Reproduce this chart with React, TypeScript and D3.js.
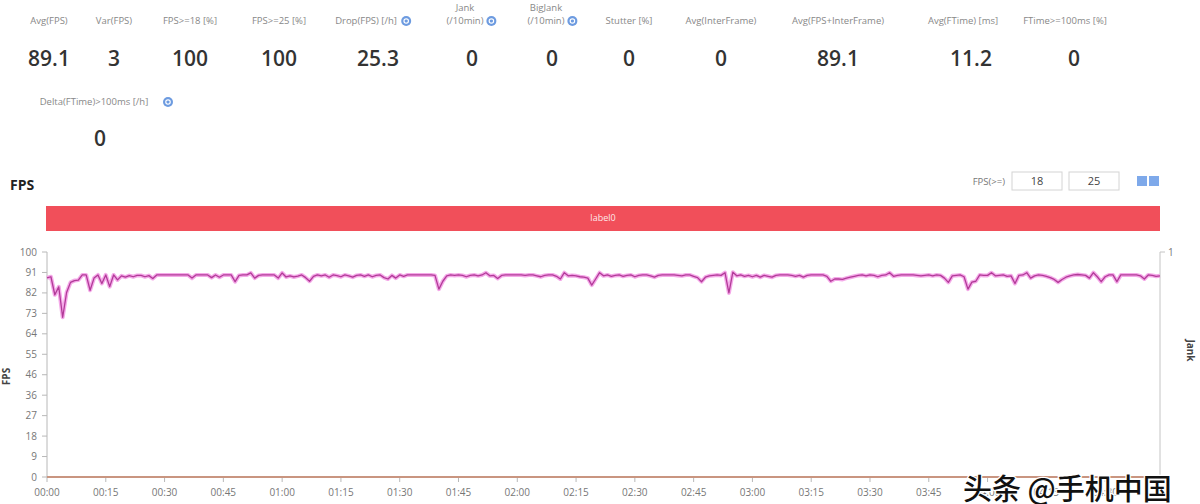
// PerfDog-style FPS report: summary stats on top, FPS line over time below.
import * as d3 from "d3";

const W = 1200;
const H = 504;

const statLabels = [
  "Avg(FPS)", "Var(FPS)", "FPS>=18 [%]", "FPS>=25 [%]", "Drop(FPS) [/h]",
  "Jank|(/10min)", "BigJank|(/10min)", "Stutter [%]", "Avg(InterFrame)",
  "Avg(FPS+InterFrame)", "Avg(FTime) [ms]", "FTime>=100ms [%]",
];
const statValues = ["89.1", "3", "100", "100", "25.3", "0", "0", "0", "0", "89.1", "11.2", "0"];
const statHelp = [false, false, false, false, true, true, true, false, false, false, false, false];
const statLabelX = [49, 114, 190, 279, 366, 465, 546, 629, 721, 838, 963, 1065];
const statValueX = [49, 114, 190, 279, 378, 472, 552, 629, 721, 838, 971, 1074];

const deltaLabel = "Delta(FTime)>100ms [/h]";
const deltaValue = "0";

const thresholds = ["18", "25"];
const bandLabel = "label0";

const yTickLabels = ["0", "9", "18", "27", "36", "46", "55", "64", "73", "82", "91", "100"];
const xTickLabels = [
  "00:00", "00:15", "00:30", "00:45", "01:00", "01:15", "01:30", "01:45", "02:00", "02:15",
  "02:30", "02:45", "03:00", "03:15", "03:30", "03:45", "04:00", "04:15", "04:30",
];

// one sample per second
const fps = [
  88.5, 89, 81, 84.5, 71, 82, 86.5, 87.3, 87.5, 89.8, 89.8, 83, 88.4, 89.8, 86,
  89.8, 84.6, 89.8, 87.6, 89.4, 88.8, 89.5, 89.0, 89.6, 89.6, 89.0, 89.5, 88.2, 89.8, 89.8,
  89.8, 89.8, 89.8, 89.8, 89.8, 89.8, 89.8, 88.4, 89.8, 89.8, 89.8, 89.8, 88.6, 89.8, 88.8,
  89.8, 89.8, 89.8, 86.8, 89.6, 89.8, 89.8, 90.7, 88.4, 89.6, 89.8, 89.8, 89.8, 89.8, 88.4,
  90.7, 88.9, 89.4, 88.9, 89.3, 89.8, 88.6, 87, 89.2, 89.8, 89.4, 89.8, 88.8, 89.8, 89.5,
  89.0, 89.8, 89.4, 88.8, 89.6, 89.8, 89.2, 89.8, 89.0, 89.6, 89.8, 88.6, 88.0, 89.6, 88.4,
  89.8, 89.2, 89.8, 89.8, 89.8, 89.8, 89.8, 89.8, 89.8, 89.6, 83.5, 87.0, 89.4, 89.8, 89.6,
  89.8, 89.6, 89.0, 89.6, 89.8, 89.4, 89.8, 90.8, 89.4, 89.6, 88.2, 89.6, 89.8, 89.8, 89.8,
  89.8, 89.8, 89.6, 89.8, 89.8, 89.4, 89.0, 89.6, 89.8, 89.8, 89.2, 88.0, 90.8, 89.4, 89.6,
  89.4, 89.0, 88.8, 88.4, 85.3, 88.0, 90.8, 89.4, 89.8, 89.2, 89.6, 89.8, 89.2, 89.6, 89.8,
  89.0, 89.6, 89.8, 89.8, 89.4, 88.8, 89.6, 89.8, 89.8, 89.8, 89.8, 89.6, 89.4, 89.8, 89.8,
  89.2, 88.6, 86.8, 88.8, 89.4, 89.6, 89.8, 89.6, 90.8, 81.8, 91.0, 89.4, 89.8, 89.2, 89.6,
  89.0, 89.6, 88.8, 89.6, 89.2, 88.8, 89.6, 89.8, 89.8, 89.8, 89.6, 89.2, 89.6, 88.8, 89.6,
  89.8, 89.8, 89.8, 89.8, 89.2, 87.0, 88.0, 88.0, 87.8, 88.4, 88.8, 89.2, 89.6, 89.8, 89.4,
  89.8, 89.6, 89.0, 89.6, 89.8, 90.8, 89.2, 89.6, 89.8, 89.8, 89.8, 89.8, 89.6, 89.4, 89.6,
  89.8, 89.4, 89.8, 89.6, 88.4, 86.5, 89.4, 89.6, 89.8, 89.0, 83.5, 86.6, 87.0, 89.8, 89.6,
  89.6, 90.8, 89.4, 89.6, 89.8, 89.2, 89.4, 86.0, 89.6, 89.8, 90.8, 88.4, 89.4, 89.8, 89.6,
  89.2, 88.6, 87.8, 86.5, 87.8, 88.8, 89.4, 89.8, 90.0, 89.8, 89.6, 88.4, 90.8, 89.0, 86.8,
  89.0, 89.8, 89.8, 86.8, 89.8, 89.8, 89.8, 89.8, 89.8, 89.4, 88.0, 89.8, 89.6, 89.2, 89.4,
];
const jank = fps.map(() => 0); // no jank in this run

const FONT = "'Open Sans', 'Noto Sans', sans-serif";

function HelpIcon({ x, y }: { x: number; y: number }) {
  return (
    <g transform={`translate(${x},${y})`}>
      <circle r={5} fill="#6d9be0" />
      <circle r={2.2} fill="none" stroke="#fff" strokeWidth={1.2} />
    </g>
  );
}

export default function App() {
  const m = { left: 47, right: 1160, top: 252, bottom: 477 };
  const x = d3.scaleLinear().domain([0, fps.length - 1]).range([m.left, m.right]);
  const xt = d3.scaleLinear().domain([0, 284]).range([m.left, m.right]);
  const y = d3.scaleLinear().domain([0, 100]).range([m.bottom, m.top]);
  const yJ = d3.scaleLinear().domain([0, 1]).range([m.bottom, m.top]);

  const line = d3.line<number>().x((_d, i) => x(i)).y((d) => y(d));
  const jankLine = d3.line<number>().x((_d, i) => x(i)).y((d) => yJ(d));
  const fpsPath = line(fps) ?? "";

  const yTicks = yTickLabels.map((t, i) => ({ t, v: (i * 100) / (yTickLabels.length - 1) }));
  const xTicks = xTickLabels.map((t, i) => ({ t, v: i * 15 }));

  return (
    <div style={{ width: W, height: H, overflow: "hidden", background: "#fff" }}>
      <style>{`html, body { margin: 0; padding: 0; overflow: hidden; background: #fff; }`}</style>
      <svg width={W} height={H} viewBox={`0 0 ${W} ${H}`} style={{ display: "block", fontFamily: FONT }}>
        <rect width={W} height={H} fill="#fff" />

        {/* summary row */}
        {statLabels.map((lab, i) => {
          const parts = lab.split("|");
          const lx = statLabelX[i];
          return (
            <g key={lab}>
              {parts.length === 2 ? (
                <>
                  <text x={lx} y={11} textAnchor="middle" fontSize={9.5} fill="#888">{parts[0]}</text>
                  <text x={lx} y={24} textAnchor="middle" fontSize={9.5} fill="#888">{parts[1]}</text>
                </>
              ) : (
                <text x={lx} y={24} textAnchor="middle" fontSize={9.5} fill="#888">{lab}</text>
              )}
              {statHelp[i] && (
                <HelpIcon
                  x={lx + (parts[parts.length - 1].length * 4.6) / 2 + 8}
                  y={21}
                />
              )}
              <text x={statValueX[i]} y={66} textAnchor="middle" fontSize={21} fontWeight={600} fill="#333">
                {statValues[i]}
              </text>
            </g>
          );
        })}
        <text x={94} y={105} textAnchor="middle" fontSize={9.5} fill="#888">{deltaLabel}</text>
        <HelpIcon x={168} y={102} />
        <text x={100} y={146} textAnchor="middle" fontSize={21} fontWeight={600} fill="#333">{deltaValue}</text>

        {/* chart header */}
        <text x={10} y={190} fontSize={14} fontWeight={700} fill="#222">FPS</text>
        <text x={1005} y={185} textAnchor="end" fontSize={9.5} fill="#777">FPS(&gt;=)</text>
        {thresholds.map((t, i) => (
          <g key={t} transform={`translate(${1012 + i * 57},172)`}>
            <rect width={50} height={18} fill="#fff" stroke="#d4d4d4" />
            <text x={25} y={13} textAnchor="middle" fontSize={11} fill="#444">{t}</text>
          </g>
        ))}
        <rect x={1137} y={176} width={10} height={10} fill="#7ea9ea" />
        <rect x={1149} y={176} width={10} height={10} fill="#7ea9ea" />

        {/* label band */}
        <rect x={46} y={206} width={1114} height={25} fill="#f14f5a" />
        <text x={603} y={221} textAnchor="middle" fontSize={9} fill="#fde8ea">{bandLabel}</text>

        {/* left axis */}
        <line x1={m.left} x2={m.left} y1={m.top} y2={m.bottom} stroke="#b8b8b8" />
        {yTicks.map(({ t, v }) => (
          <g key={t}>
            <line x1={m.left - 5} x2={m.left} y1={y(v)} y2={y(v)} stroke="#b8b8b8" />
            <text x={m.left - 10} y={y(v) + 3.5} textAnchor="end" fontSize={10} fill="#777">{t}</text>
          </g>
        ))}
        <text transform={`translate(10,${(m.top + m.bottom) / 2 + 12}) rotate(-90)`} textAnchor="middle" fontSize={10} fontWeight={700} fill="#444">FPS</text>

        {/* right axis */}
        <line x1={m.right} x2={m.right} y1={m.top} y2={m.bottom} stroke="#c4c4c4" />
        <line x1={m.right} x2={m.right + 5} y1={yJ(1)} y2={yJ(1)} stroke="#c4c4c4" />
        <text x={m.right + 8} y={yJ(1) + 3.5} fontSize={10} fill="#777">1</text>
        <text transform={`translate(1187,${(m.top + m.bottom) / 2 - 14}) rotate(90)`} textAnchor="middle" fontSize={10} fontWeight={700} fill="#444">Jank</text>

        {/* bottom axis */}
        <line x1={m.left} x2={m.right} y1={m.bottom} y2={m.bottom} stroke="#b8b8b8" />
        {xTicks.map(({ t, v }) => (
          <g key={t}>
            <line x1={xt(v)} x2={xt(v)} y1={m.bottom} y2={m.bottom + 5} stroke="#b8b8b8" />
            <text x={xt(v)} y={m.bottom + 19} textAnchor="middle" fontSize={10} fill="#777">{t}</text>
          </g>
        ))}

        {/* series */}
        <path d={jankLine(jank) ?? ""} fill="none" stroke="#c99580" strokeWidth={2} />
        <path d={fpsPath} fill="none" stroke="#f29ae4" strokeWidth={4} strokeOpacity={0.85} strokeLinejoin="round" />
        <path d={fpsPath} fill="none" stroke="#b23a98" strokeWidth={1.3} strokeLinejoin="round" />

        {/* watermark */}
        <text
          x={963}
          y={500}
          fontSize={29}
          fontFamily="'Noto Sans CJK SC', sans-serif"
          fontWeight={500}
          fill="#111"
          stroke="#fff"
          strokeWidth={2.5}
          paintOrder="stroke"
          strokeLinejoin="round"
        >
          头条 @手机中国
        </text>
      </svg>
    </div>
  );
}
